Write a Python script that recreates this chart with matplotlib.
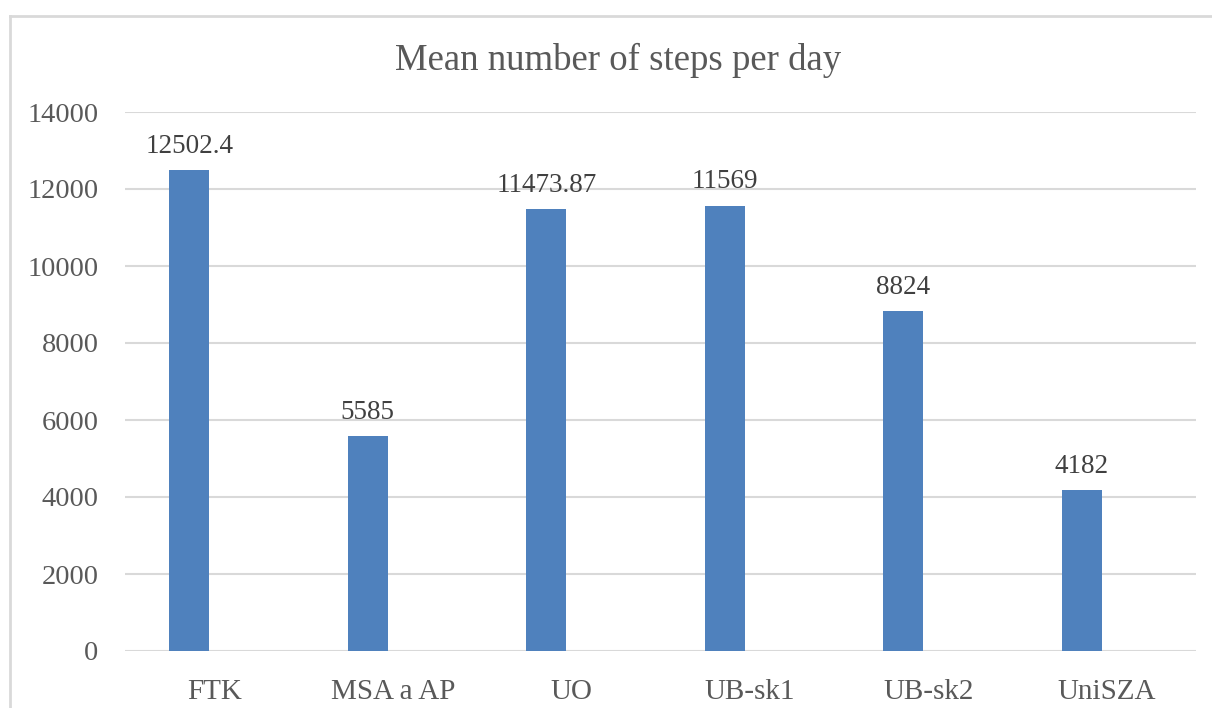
import matplotlib
matplotlib.use("Agg")
import matplotlib.pyplot as plt
from matplotlib.lines import Line2D

categories = ["FTK", "MSA a AP", "UO", "UB-sk1", "UB-sk2", "UniSZA"]
values = [12502.4, 5585, 11473.87, 11569, 8824, 4182]
value_labels = ["12502.4", "5585", "11473.87", "11569", "8824", "4182"]
yticks = [0, 2000, 4000, 6000, 8000, 10000, 12000, 14000]
title = "Mean number of steps per day"

plt.rcParams['font.family'] = ['Liberation Serif', 'DejaVu Serif']
W, H = 1212, 708
fig = plt.figure(figsize=(W/100, H/100), dpi=100)
fig.patch.set_facecolor('white')

ax = fig.add_axes([125/W, 1-651/H, (1196-125)/W, (651-112)/H])
x = list(range(len(categories)))
bw = 0.224
off = -0.14
ax.bar([i + off for i in x], values, width=bw, color='#4F81BD', zorder=3)
ax.set_xlim(-0.5, len(categories) - 0.5)
ax.set_ylim(0, 14000)
ax.set_yticks(yticks)
ax.set_yticklabels([str(t) for t in yticks])
ax.set_xticks(x)
ax.set_xticklabels(categories)
ax.tick_params(axis='both', length=0, colors='#595959')
ax.tick_params(axis='y', pad=19, labelsize=20.4)
ax.tick_params(axis='x', pad=20, labelsize=21)
ax.grid(axis='y', color='#D9D9D9', linewidth=1.5, zorder=0)
for s in ax.spines.values():
    s.set_visible(False)

for i, (v, lab) in enumerate(zip(values, value_labels)):
    ax.annotate(lab, (i + off, v), xytext=(0, 8), textcoords='offset points',
                ha='center', va='bottom', fontsize=19.5, color='#404040')

fig.text(618/W, 1-60/H, title, ha='center', va='center', fontsize=26.5, color='#595959')

# chart border
fig.add_artist(Line2D([10/W, 10/W], [0, 1-16/H], color='#D9D9D9', linewidth=2, transform=fig.transFigure))
fig.add_artist(Line2D([10/W, 1], [1-16/H, 1-16/H], color='#D9D9D9', linewidth=2, transform=fig.transFigure))

fig.savefig("out.png", dpi=100, facecolor='white')
